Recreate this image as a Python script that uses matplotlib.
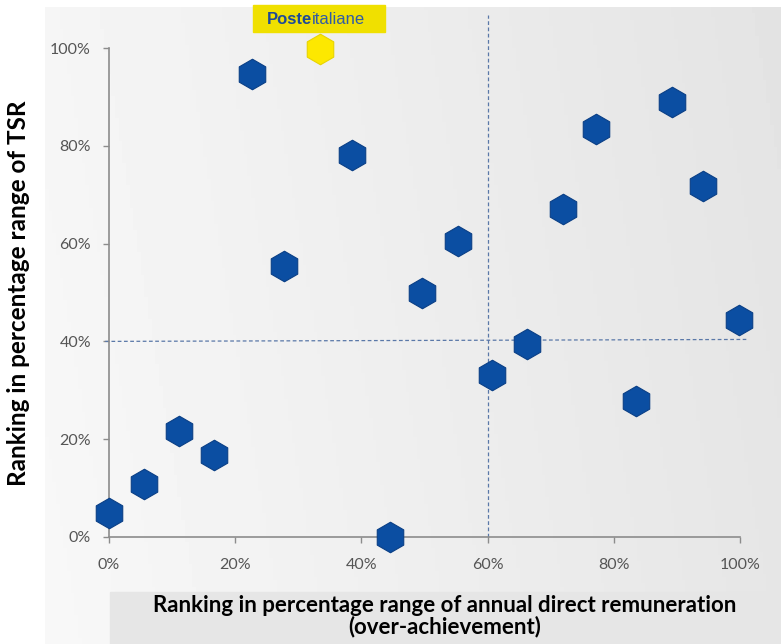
import numpy as np
import matplotlib.pyplot as plt
from matplotlib.patches import Rectangle

# ranking data (fractions of range, in %)
remuneration = [0, 5.6, 11.1, 16.6, 22.7, 27.7, 38.5, 44.5, 49.6, 55.3,
                60.7, 66.2, 71.9, 77.2, 83.5, 89.2, 94.1, 99.8]
tsr = [4.9, 10.8, 21.7, 16.8, 94.7, 55.4, 78.1, 0, 49.9, 60.5,
       33.1, 39.5, 67.1, 83.4, 27.8, 89.0, 71.8, 44.4]
poste_x = [33.4]
poste_y = [99.8]
ref_x = 60
ref_y = 40
ticks = [0, 20, 40, 60, 80, 100]
tick_labels = ['0%', '20%', '40%', '60%', '80%', '100%']

plt.rcParams['font.family'] = ['Lato', 'DejaVu Sans']

fig = plt.figure(figsize=(7.81, 6.44), dpi=100)
fig.patch.set_facecolor('white')

# grey gradient panel behind the chart
bg = fig.add_axes([45 / 781, 0, 1 - 45 / 781, 1 - 7 / 644])
gx = np.linspace(0, 1, 200)
gy = np.linspace(0, 1, 200)
GX, GY = np.meshgrid(gx, gy)
grad = 0.972 - 0.07 * GX - 0.01 * GY
bg.imshow(grad, cmap='gray', vmin=0, vmax=1, aspect='auto', origin='lower',
          extent=[0, 1, 0, 1])
bg.axis('off')
bg.add_patch(Rectangle(((110 - 45) / 736, 0), 1, 52 / 637, color='#e6e6e6',
                       transform=bg.transAxes, zorder=3))

ax = fig.add_axes([109 / 781, 1 - 537 / 644, 631 / 781, 489 / 644])
ax.set_facecolor('none')
ax.set_xlim(0, 100)
ax.set_ylim(0, 100)
for s in ['top', 'right']:
    ax.spines[s].set_visible(False)
for s in ['left', 'bottom']:
    ax.spines[s].set_color('#8c8c8c')
    ax.spines[s].set_linewidth(1.2)
ax.set_xticks(ticks)
ax.set_xticklabels(tick_labels)
ax.set_yticks(ticks)
ax.set_yticklabels(tick_labels)
ax.tick_params(colors='#8c8c8c', labelcolor='#555555', labelsize=11.5,
               length=4, width=1, pad=11)
ax.tick_params(axis='y', pad=9)

# quadrant reference lines
ax.plot([ref_x, ref_x], [0, 106.7], ls=(0, (3, 2)), color='#5a78a8', lw=0.9,
        clip_on=False, zorder=2)
ax.plot([-0.6, 101], [ref_y, ref_y + 0.4], ls=(0, (3, 2)), color='#5a78a8',
        lw=0.9, clip_on=False, zorder=2)

ax.plot(remuneration, tsr, ls='none', marker='h', ms=22, color='#0b4ea2',
        mec='#0a3f86', mew=0.8, clip_on=False, zorder=4)
ax.plot(poste_x, poste_y, ls='none', marker='h', ms=22, color='#fde800',
        mec='#e8d400', mew=0.8, clip_on=False, zorder=4)

# logo label above the highlighted point
fig.patches.append(Rectangle((253 / 781, 1 - 32 / 644), 132 / 781, 27 / 644,
                             transform=fig.transFigure, color='#f0e000',
                             zorder=5))
t1 = fig.text(267 / 781, 1 - 19 / 644, 'Poste', color='#1e4a98',
              fontsize=12, fontweight='bold', family='Liberation Sans',
              va='center', ha='left', zorder=6)
fig.canvas.draw()
bb = t1.get_window_extent()
fig.text(bb.x1 / fig.bbox.width, 1 - 19 / 644, 'italiane', color='#2f5ba6',
         fontsize=12, family='Liberation Sans', va='center', ha='left',
         zorder=6)

fig.text(19 / 781, 1 - 293 / 644, 'Ranking in percentage range of TSR',
         rotation=90, ha='center', va='center', fontsize=17.5,
         fontweight='bold', color='black')
fig.text(445 / 781, 1 - 616 / 644,
         'Ranking in percentage range of annual direct remuneration\n'
         '(over-achievement)', ha='center', va='center', fontsize=16,
         fontweight='bold', color='black', linespacing=1.0)

fig.savefig('out.png', dpi=100)
